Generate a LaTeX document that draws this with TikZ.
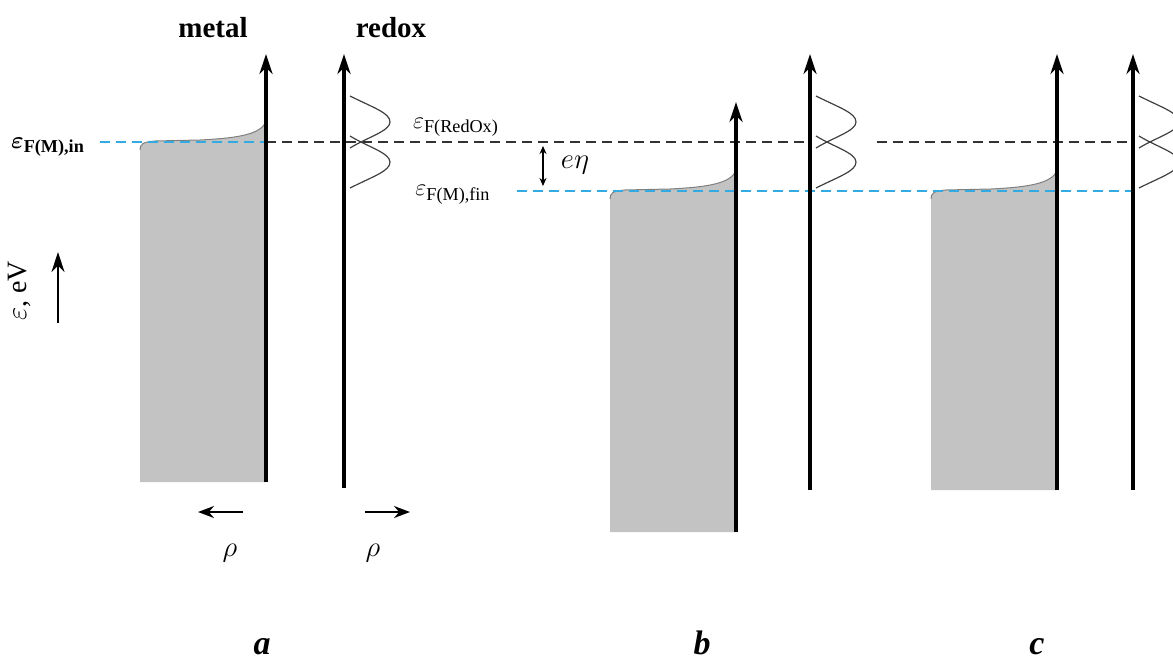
\documentclass[tikz,border=0pt]{standalone}
\usepackage{fontspec}
\setmainfont{Liberation Serif}
\usepackage{amsmath}
\usetikzlibrary{arrows.meta}

\definecolor{fermiblue}{RGB}{51,170,225}
\definecolor{bandgray}{RGB}{195,195,195}

\begin{document}
\begin{tikzpicture}[
  x=0.5pt, y=-0.5pt,
  >=Stealth,
  axis/.style={line width=2pt, -{Stealth[length=10pt,width=6.5pt]}},
  level/.style={dash pattern=on 5pt off 3pt, line width=0.65pt, black!80},
  fermi/.style={dash pattern=on 5pt off 3pt, line width=0.65pt, fermiblue},
  dos/.style={line width=0.6pt, black!75},
  bandedge/.style={line width=0.5pt, black!50},
  thin/.style={line width=0.6pt},
  head/.style={font=\fontsize{14.5}{16}\selectfont\bfseries},
  panel/.style={font=\fontsize{17}{19}\selectfont\bfseries\itshape, inner sep=0pt, anchor=base},
  elbl/.style={font=\fontsize{13}{15}\selectfont, inner sep=0pt},
]
  \clip (0,0) rectangle (1173,659);

  \newcommand{\metaldos}[3]{%
    \begin{scope}[shift={(#1,#2)}]
      \fill[bandgray] (140,{#3-#2}) -- (140,150)
        .. controls (140,144) and (143,142) .. (155,141) -- (200,140)
        .. controls (240,138) and (260,134) .. (266,122) -- (266,{#3-#2}) -- cycle;
      \draw[bandedge] (140,150)
        .. controls (140,144) and (143,142) .. (155,141) -- (200,140)
        .. controls (240,138) and (260,134) .. (266,122);
    \end{scope}}
  \newcommand{\redoxdos}[1]{%
    \draw[dos] ({#1+6},96) .. controls ({#1+30},108) and ({#1+46},113) .. ({#1+46},122)
      .. controls ({#1+46},131) and ({#1+24},137) .. ({#1+6},148);
    \draw[dos] ({#1+6},188) .. controls ({#1+30},176) and ({#1+46},171) .. ({#1+46},162)
      .. controls ({#1+46},153) and ({#1+24},147) .. ({#1+6},136);}

  % ===================== bands =====================
  \metaldos{0}{0}{482}
  \metaldos{470}{49}{532}
  \metaldos{791}{49}{490}

  % ===================== Fermi levels =====================
  \coordinate (inL) at (100,142);
  \coordinate (inR) at (266,142);
  \coordinate (roA) at (266,142);
  \coordinate (roB) at (810,142);
  \coordinate (roC) at (877,142);
  \coordinate (roD) at (1133,142);
  \coordinate (finL) at (517,191);
  \coordinate (finR) at (1133,191);
  \draw[fermi] (inL) -- (inR);
  \draw[level] (roA) -- (roB);
  \draw[level] (roC) -- (roD);
  \draw[fermi] (finL) -- (finR);

  % ===================== redox DOS =====================
  \redoxdos{344}
  \redoxdos{810}
  \redoxdos{1133}

  % ===================== axes =====================
  \foreach \nm/\x/\yb/\yt in {aM/266/482/54, aR/344/488/54, bM/736/532/102,
                             bR/810/490/54, cM/1057/490/54, cR/1133/490/54} {
    \coordinate (\nm0) at (\x,\yb);
    \coordinate (\nm1) at (\x,\yt);
    \draw[axis] (\nm0) -- (\nm1);
  }

  % ===================== labels =====================
  \node[head] (hmetal) at (213,28) {metal};
  \node[head] (hredox) at (391,28) {redox};

  \node[elbl] (lin) at (48,147)
    {\fontsize{13}{15}\selectfont$\boldsymbol{\varepsilon}_{\text{\bfseries F(M),in}}$};
  \node[elbl] (lro) at (456,127)
    {$\varepsilon_{\text{F(RedOx)}}$};
  \node[elbl] (lfin) at (453,195)
    {$\varepsilon_{\text{F(M),fin}}$};

  \coordinate (etaT) at (543,146);
  \coordinate (etaB) at (543,186);
  \draw[thin, {Stealth[length=4pt,width=3.5pt]}-{Stealth[length=4pt,width=3.5pt]}] (etaT) -- (etaB);
  \node[font=\fontsize{15}{17}\selectfont] (eeta) at (575,165) {$e\eta$};

  \node[rotate=90, font=\fontsize{14}{16}\selectfont] (eaxis) at (19,291) {$\varepsilon$, eV};
  \coordinate (eb) at (58,323);
  \coordinate (et) at (58,252);
  \draw[thin, -{Stealth[length=10pt,width=6.5pt]}] (eb) -- (et);

  \coordinate (rlA) at (243,512);
  \coordinate (rlB) at (198,512);
  \coordinate (rrA) at (365,512);
  \coordinate (rrB) at (410,512);
  \draw[line width=1pt, -{Stealth[length=8pt,width=6pt]}] (rlA) -- (rlB);
  \draw[line width=1pt, -{Stealth[length=8pt,width=6pt]}] (rrA) -- (rrB);
  \node[font=\fontsize{14}{16}\selectfont] (rhoL) at (230,553) {$\rho$};
  \node[font=\fontsize{14}{16}\selectfont] (rhoR) at (373,553) {$\rho$};

  \node[panel] (pa) at (262,654) {a};
  \node[panel] (pb) at (702,654) {b};
  \node[panel] (pc) at (1037,654) {c};
\end{tikzpicture}
\end{document}
